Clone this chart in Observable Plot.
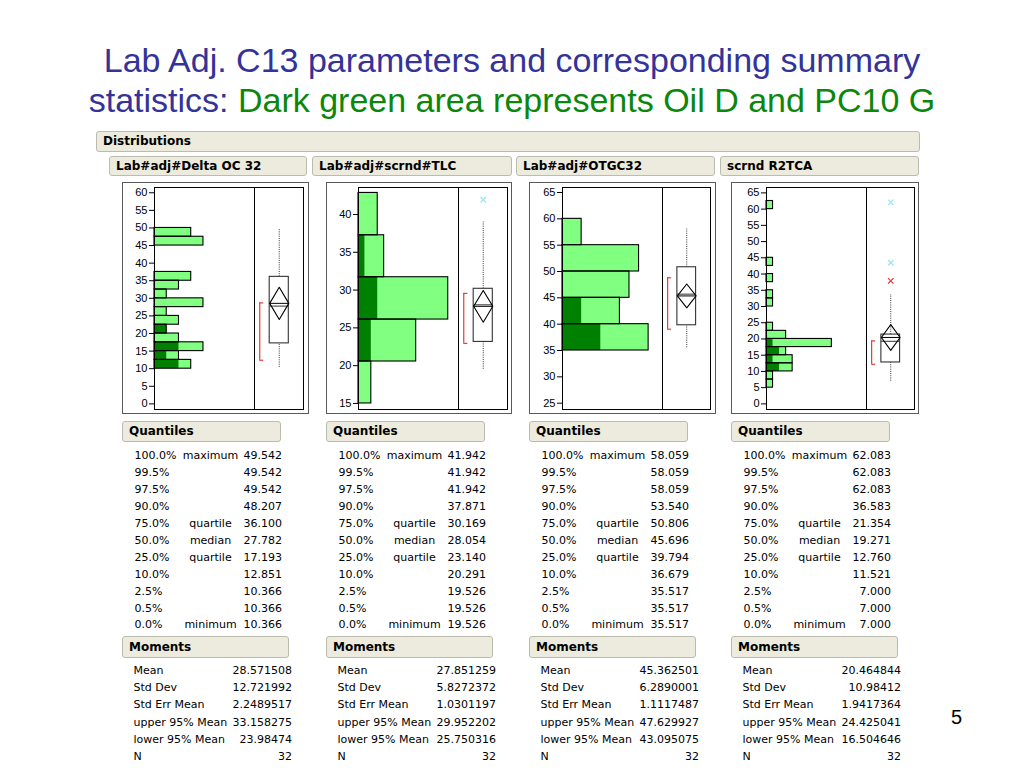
<!DOCTYPE html>
<html><head><meta charset="utf-8">
<script src="https://cdn.jsdelivr.net/npm/d3@7"></script>
<script src="https://cdn.jsdelivr.net/npm/@observablehq/plot@0.6"></script>
<style>
body{margin:0;width:1024px;height:768px;position:relative;background:#fff;overflow:hidden;font-family:"DejaVu Sans",Verdana,sans-serif;color:#000;}
.title{position:absolute;left:0;width:1024px;text-align:center;font-family:"Liberation Sans",Arial,sans-serif;font-size:34px;line-height:40px;color:#333399;white-space:nowrap;}
.hdr{position:absolute;box-sizing:border-box;background:#ecebdd;border:1px solid #bcbcae;border-radius:3px;font-weight:bold;font-size:12px;padding-left:6px;white-space:nowrap;}
.frame{position:absolute;box-sizing:border-box;border:1px solid #5a5a5a;}
.inner{position:absolute;box-sizing:border-box;border:1px solid #000;pointer-events:none;}
.sep{position:absolute;width:1px;background:#000;}
.cell{position:absolute;font-size:11px;line-height:17px;white-space:nowrap;}
.plot{position:absolute;}
</style></head><body>
<div class="title" style="top:40px">Lab Adj. C13 parameters and corresponding summary</div>
<div class="title" style="top:80px">statistics: <span style="color:#0b870b">Dark green area represents Oil D and PC10 G</span></div>
<div style="position:absolute;left:951px;top:705px;font-family:'Liberation Sans',Arial,sans-serif;font-size:20px;line-height:24px">5</div>
<div id="root"></div>
<script>
// ---------- data ----------
const names = ["Lab#adj#Delta OC 32", "Lab#adj#scrnd#TLC", "Lab#adj#OTGC32", "scrnd R2TCA"];

// histogram bins (low edge, high edge), counts, and dark-green (Oil D / PC10 G) counts
const deltaLo = [10, 12.5, 15, 17.5, 20, 22.5, 25, 27.5, 30, 32.5, 35, 45, 47.5];
const deltaHi = [12.5, 15, 17.5, 20, 22.5, 25, 27.5, 30, 32.5, 35, 37.5, 47.5, 50];
const deltaCount = [3, 2, 4, 2, 1, 2, 1, 4, 1, 2, 3, 4, 3];
const deltaDark = [2, 1, 2, 0, 1, 0, 0, 0, 0, 0, 0, 0, 0];

const tlcLo = [15, 20.55, 26.1, 31.7, 37.25];
const tlcHi = [20.55, 26.1, 31.7, 37.25, 42.85];
const tlcCount = [2, 9, 14, 4, 3];
const tlcDark = [0, 2, 3, 1, 0];

const otgcLo = [35, 40, 45, 50, 55];
const otgcHi = [40, 45, 50, 55, 60];
const otgcCount = [9, 6, 7, 8, 2];
const otgcDark = [4, 2, 0, 0, 0];

const r2Lo = [5, 7.5, 10, 12.5, 15, 17.5, 20, 22.5, 30, 32.5, 37.5, 42.5, 60];
const r2Hi = [7.5, 10, 12.5, 15, 17.5, 20, 22.5, 25, 32.5, 35, 40, 45, 62.5];
const r2Count = [1, 1, 4, 4, 3, 10, 3, 1, 1, 1, 1, 1, 1];
const r2Dark = [0, 0, 2, 1, 2, 1, 0, 0, 0, 0, 0, 0, 0];

// axis ticks
const deltaTicks = [0, 5, 10, 15, 20, 25, 30, 35, 40, 45, 50, 55, 60];
const tlcTicks = [15, 20, 25, 30, 35, 40];
const otgcTicks = [25, 30, 35, 40, 45, 50, 55, 60, 65];
const r2Ticks = [0, 5, 10, 15, 20, 25, 30, 35, 40, 45, 50, 55, 60, 65];

// quantiles
const quantPct = ["100.0%", "99.5%", "97.5%", "90.0%", "75.0%", "50.0%", "25.0%", "10.0%", "2.5%", "0.5%", "0.0%"];
const quantLbl = ["maximum", "", "", "", "quartile", "median", "quartile", "", "", "", "minimum"];
const quantDelta = ["49.542", "49.542", "49.542", "48.207", "36.100", "27.782", "17.193", "12.851", "10.366", "10.366", "10.366"];
const quantTlc = ["41.942", "41.942", "41.942", "37.871", "30.169", "28.054", "23.140", "20.291", "19.526", "19.526", "19.526"];
const quantOtgc = ["58.059", "58.059", "58.059", "53.540", "50.806", "45.696", "39.794", "36.679", "35.517", "35.517", "35.517"];
const quantR2 = ["62.083", "62.083", "62.083", "36.583", "21.354", "19.271", "12.760", "11.521", "7.000", "7.000", "7.000"];

// moments
const momLbl = ["Mean", "Std Dev", "Std Err Mean", "upper 95% Mean", "lower 95% Mean", "N"];
const momDelta = ["28.571508", "12.721992", "2.2489517", "33.158275", "23.98474", "32"];
const momTlc = ["27.851259", "5.8272372", "1.0301197", "29.952202", "25.750316", "32"];
const momOtgc = ["45.362501", "6.2890001", "1.1117487", "47.629927", "43.095075", "32"];
const momR2 = ["20.464844", "10.98412", "1.9417364", "24.425041", "16.504646", "32"];

// box plot extras
const whiskerHi = [49.542, 39.0, 58.059, 33.7];
const shortestLo = [12.4, 22.95, 39.05, 12.2];
const shortestHi = [28.7, 29.56, 48.8, 19.4];
const outlierPanel = [1, 3, 3, 3];
const outlierValue = [41.942, 62.083, 43.5, 37.9];
const outlierKind = ["cyan", "cyan", "cyan", "red"];

// scales
const yDomains = [[-1.6, 61.5], [14.2, 43.57], [23.8, 65.95], [-1.73, 66.66]];
const xMax = [8.17, 15.6, 10.45, 15.3];

// ---------- layout ----------
const geom = [
  {L: 122, IL: 154, S: 254, IR: 303, R: 309},
  {L: 326, IL: 358, S: 458, IR: 507, R: 512},
  {L: 529, IL: 562, S: 662, IR: 710, R: 716},
  {L: 731, IL: 766, S: 866, IR: 914, R: 919}
];
const headerSpans = [[109, 307], [312, 512], [516, 715], [720, 919]];
const lows = [deltaLo, tlcLo, otgcLo, r2Lo];
const highs = [deltaHi, tlcHi, otgcHi, r2Hi];
const counts = [deltaCount, tlcCount, otgcCount, r2Count];
const darks = [deltaDark, tlcDark, otgcDark, r2Dark];
const ticksAll = [deltaTicks, tlcTicks, otgcTicks, r2Ticks];
const quants = [quantDelta, quantTlc, quantOtgc, quantR2];
const moms = [momDelta, momTlc, momOtgc, momR2];

const root = document.getElementById("root");
function div(cls, style, text) {
  const d = document.createElement("div");
  d.className = cls;
  Object.assign(d.style, style);
  if (text !== undefined) d.textContent = text;
  root.appendChild(d);
  return d;
}
const px = v => v + "px";

div("hdr", {left: px(96), top: px(131), width: px(824), height: px(21), lineHeight: px(19)}, "Distributions");

const TOP = 182, H = 232, MT = 5, MB = 5;
const red = "#e23c3c", cyan = "#9fe3f3";
const plotStyle = {fontFamily: "'Liberation Sans', Arial, sans-serif", fontSize: "11px", background: "transparent", overflow: "visible", color: "#000"};

for (let p = 0; p < 4; p++) {
  const g = geom[p];
  const [hl, hr] = headerSpans[p];
  div("hdr", {left: px(hl), top: px(156), width: px(hr - hl), height: px(20), lineHeight: px(18)}, names[p]);
  div("frame", {left: px(g.L), top: px(TOP), width: px(g.R - g.L), height: px(H)});

  const rows = lows[p].map((lo, i) => ({lo, hi: highs[p][i], n: counts[p][i], d: darks[p][i]}));
  const hist = Plot.plot({
    width: g.S - g.L, height: H,
    marginLeft: g.IL - g.L, marginRight: 0, marginTop: MT, marginBottom: MB,
    x: {domain: [0, xMax[p]], axis: null},
    y: {domain: yDomains[p], axis: null},
    style: plotStyle,
    marks: [
      Plot.rect(rows, {x1: 0, x2: "n", y1: "lo", y2: "hi", fill: "#80ff80"}),
      Plot.rect(rows.filter(r => r.d > 0), {x1: 0, x2: "d", y1: "lo", y2: "hi", fill: "#008000"}),
      Plot.rect(rows, {x1: 0, x2: "n", y1: "lo", y2: "hi", fill: "none", stroke: "#000", strokeWidth: 1.1}),
      Plot.axisY({ticks: ticksAll[p], tickSize: 5, tickPadding: 2, tickFormat: d => String(d), anchor: "left", fontSize: 11})
    ]
  });
  hist.classList.add("plot");
  Object.assign(hist.style, {left: px(g.L), top: px(TOP)});
  root.appendChild(hist);

  const q = quants[p], m = moms[p];
  const b = {q1: +q[6], med: +q[5], q3: +q[4], wlo: +q[10], whi: whiskerHi[p],
             mean: +m[0], hi: +m[3], lo: +m[4], sl: shortestLo[p], sh: shortestHi[p]};
  const xl = 0.31, xr = 0.70, xc = 0.505, xb = 0.107, xbt = 0.19;
  const diamond = [
    {x: xl, y: b.mean}, {x: xc, y: b.hi}, {x: xr, y: b.mean}, {x: xc, y: b.lo}, {x: xl, y: b.mean}
  ];
  const outs = outlierValue.map((v, i) => ({v, k: outlierKind[i], p: outlierPanel[i]})).filter(o => o.p === p);
  const box = Plot.plot({
    width: g.IR - g.S, height: H,
    marginLeft: 0, marginRight: 0, marginTop: MT, marginBottom: MB,
    x: {domain: [0, 1], axis: null},
    y: {domain: yDomains[p], axis: null},
    style: plotStyle,
    marks: [
      Plot.ruleX([b], {x: xc, y1: "wlo", y2: "q1", stroke: "#333", strokeDasharray: "1,1.2"}),
      Plot.ruleX([b], {x: xc, y1: "q3", y2: "whi", stroke: "#333", strokeDasharray: "1,1.2"}),
      Plot.rect([b], {x1: xl, x2: xr, y1: "q1", y2: "q3", fill: "white", stroke: "#333", strokeWidth: 1.1}),
      Plot.ruleY([b], {y: "med", x1: xl, x2: xr, stroke: "#555", strokeWidth: 1.2}),
      Plot.line(diamond, {x: "x", y: "y", stroke: "#000", strokeWidth: 1.1}),
      Plot.ruleY([b], {y: "mean", x1: xl, x2: xr, stroke: "#000"}),
      Plot.ruleX([b], {x: xb, y1: "sl", y2: "sh", stroke: red, strokeWidth: 1.2}),
      Plot.ruleY([b.sl, b.sh], {y: d => d, x1: xb, x2: xbt, stroke: red, strokeWidth: 1.2}),
      Plot.dot(outs.filter(o => o.k === "cyan"), {x: xc, y: "v", symbol: "times", r: 2.6, stroke: cyan, strokeWidth: 1.3}),
      Plot.dot(outs.filter(o => o.k === "red"), {x: xc, y: "v", symbol: "times", r: 2.6, stroke: red, strokeWidth: 1.3})
    ]
  });
  box.classList.add("plot");
  Object.assign(box.style, {left: px(g.S), top: px(TOP)});
  root.appendChild(box);

  div("inner", {left: px(g.IL), top: px(TOP + MT), width: px(g.IR - g.IL + 1), height: px(H - MT - MB + 1)});
  div("sep", {left: px(g.S), top: px(TOP + MT), height: px(H - MT - MB)});

  // Quantiles table
  div("hdr", {left: px(g.L), top: px(421), width: px(159), height: px(21), lineHeight: px(19)}, "Quantiles");
  quantPct.forEach((t, i) => {
    const top = 447.4 + 16.9 * i;
    div("cell", {left: px(g.L + 12.5), top: px(top)}, t);
    if (quantLbl[i]) div("cell", {left: px(g.L + 48.5), width: px(80), textAlign: "center", top: px(top)}, quantLbl[i]);
    div("cell", {left: px(g.L + 60), width: px(100), textAlign: "right", top: px(top)}, q[i]);
  });
  // Moments table
  div("hdr", {left: px(g.L), top: px(636), width: px(167), height: px(22), lineHeight: px(20)}, "Moments");
  momLbl.forEach((t, i) => {
    const top = 661.7 + 17.3 * i;
    div("cell", {left: px(g.L + 11.5), top: px(top)}, t);
    div("cell", {left: px(g.L + 70), width: px(100), textAlign: "right", top: px(top)}, m[i]);
  });
}
</script>
</body></html>
